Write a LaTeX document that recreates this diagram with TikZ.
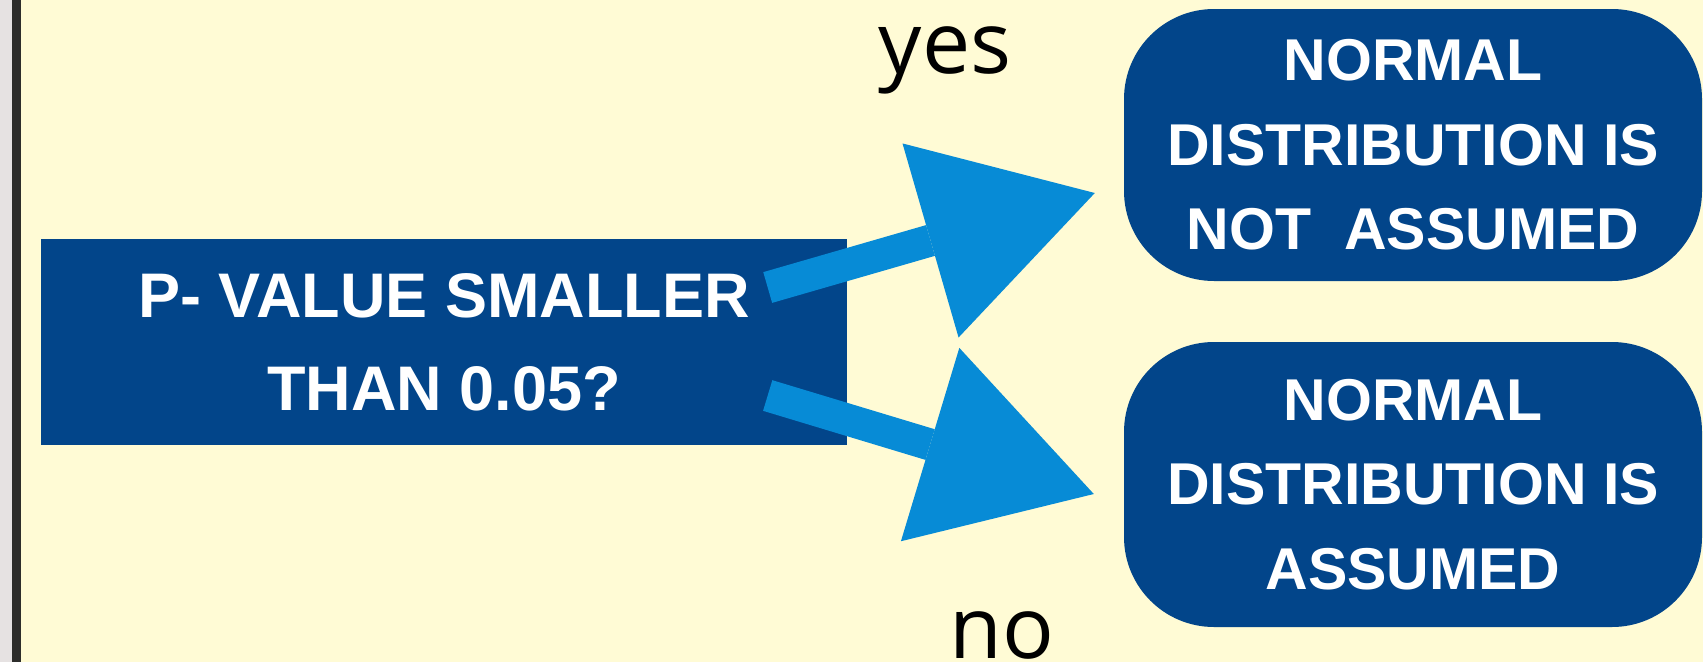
\documentclass[tikz,border=0pt]{standalone}
\usepackage{fontspec}
\setmainfont{Liberation Sans}
\newfontfamily\labelfont{Open Sans}
\usetikzlibrary{arrows.meta,calc}

\definecolor{paper}{HTML}{FFFBD5}
\definecolor{sidegray}{HTML}{E6E2E2}
\definecolor{sideline}{HTML}{2D2D2B}
\definecolor{boxblue}{HTML}{02458A}
\definecolor{arrowblue}{HTML}{078BD6}

\tikzset{
  question/.style={rectangle, fill=boxblue, inner sep=0pt,
    minimum width=806pt, minimum height=206pt, text=white, align=center,
    font=\bfseries\fontsize{63}{93}\selectfont},
  outcome/.style={rectangle, rounded corners=90pt, fill=boxblue, inner sep=0pt,
    minimum width=578pt, text=white, align=center,
    font=\bfseries\fontsize{59}{84.5}\selectfont},
  branch/.style={draw=arrowblue, line width=32pt, line cap=butt,
    -{Triangle[length=171pt,width=202pt,line width=0pt]}},
  answer/.style={anchor=base, inner sep=0pt, text=black,
    font=\labelfont\fontsize{86}{100}\selectfont}
}

\begin{document}
\begin{tikzpicture}[x=1pt,y=-1pt]
  % page background and left edge strip
  \fill[paper] (0,0) rectangle (1703,662);
  \useasboundingbox (0,0) rectangle (1703,662);
  \fill[sidegray] (0,0) rectangle (12,662);
  \fill[sideline] (12,0) rectangle (21,662);

  % boxes
  \node[question] (q) at (444,342) {P- VALUE SMALLER\\THAN 0.05?};
  \node[outcome, minimum height=272pt] (notnormal) at (1413,145)
    {NORMAL\\DISTRIBUTION IS\\NOT\ \ ASSUMED};
  \node[outcome, minimum height=285pt] (normal) at (1413,484.5)
    {NORMAL\\DISTRIBUTION IS\\ASSUMED};

  % branch arrows
  \coordinate (yesstart) at ($(q.east)+(-79.5,-54.5)$);
  \coordinate (yesend) at ($(notnormal.west)+(-29,48)$);
  \coordinate (nostart) at ($(q.east)+(-79.5,53.5)$);
  \coordinate (noend) at ($(normal.west)+(-30,9.5)$);
  \draw[branch] (yesstart) -- (yesend);
  \draw[branch] (nostart) -- (noend);

  % branch labels
  \node[answer] (yeslabel) at (945,73) {yes};
  \node[answer] (nolabel) at (1002,658) {no};
\end{tikzpicture}
\end{document}
